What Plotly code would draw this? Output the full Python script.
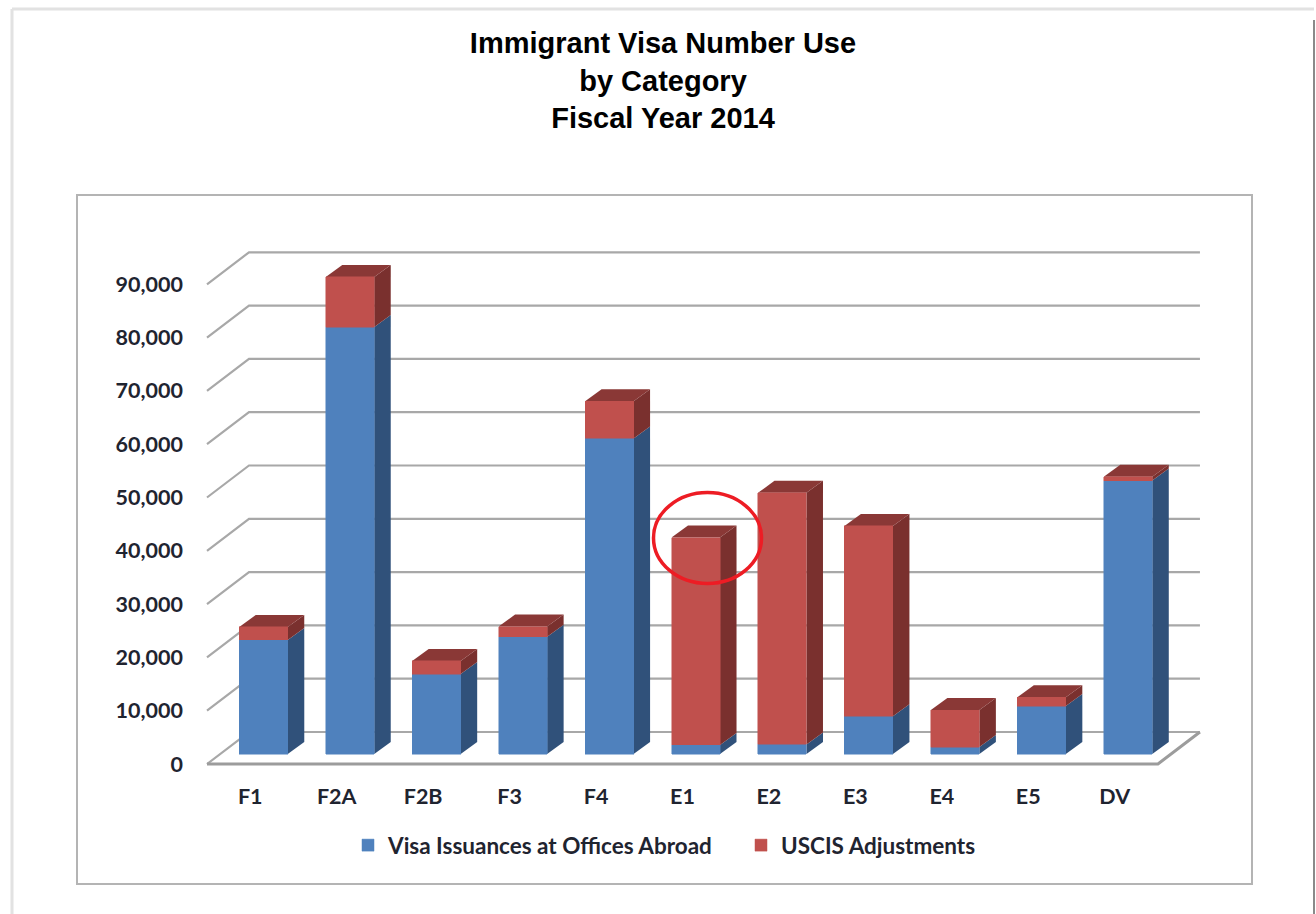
import plotly.graph_objects as go

categories = ["F1", "F2A", "F2B", "F3", "F4", "E1", "E2", "E3", "E4", "E5", "DV"]
visa_abroad = [21400, 80100, 15000, 22000, 59200, 1700, 1800, 7100, 1300, 9000, 51300]
uscis_adjust = [2450, 9400, 2450, 1900, 7000, 38900, 47200, 35700, 6950, 1650, 700]
axis_ticks = [0, 10000, 20000, 30000, 40000, 50000, 60000, 70000, 80000, 90000]

BLUE, BLUE_SIDE = "#4F81BD", "#30517A"
RED, RED_SIDE, RED_TOP = "#C0504D", "#7A302E", "#8A3836"
GRID = "#A8A8A8"
TEXT = "#1F2430"
FONT = "Lato"

W, H = 1316, 914
# plot-area frame (px)
L, R, T, B = 200, 1210, 240, 775
STEP = 86.45          # px per category
X0_PX = 207           # front-left corner of the floor
Y0_PX = 754           # bar base
PX_PER_VAL = 53.3 / 10000

def dx(px):
    return px / STEP
def dy(px):
    return px / PX_PER_VAL
def xd(px):
    return -0.5 + (px - X0_PX) / STEP
def yd(px):
    return (Y0_PX - px) / PX_PER_VAL
def px_x(px):
    return (px - L) / (R - L)
def px_y(py):
    return (B - py) / (B - T)

BAR_SHIFT = dx(13.3)
BAR_W = dx(48.5)
DEPTH_X, DEPTH_Y = dx(16.5), dy(12)
FRONT = dy(-10)       # front floor edge relative to bar base
BACK_DX, BACK_DY = dx(42), dy(32)
N = len(categories)

def poly(pts, fill, line=None, width=0, close=True):
    path = "M " + " L ".join(f"{x},{y}" for x, y in pts) + (" Z" if close else "")
    s = dict(type="path", xref="x", yref="y", path=path, layer="below",
             line=dict(color=line or "rgba(0,0,0,0)", width=width))
    if fill:
        s["fillcolor"] = fill
    return s

shapes = []
# outer page edges and inner chart frame
shapes += [
    dict(type="line", xref="paper", yref="paper", x0=px_x(12), x1=px_x(1314), y0=px_y(9), y1=px_y(9),
         line=dict(color="#E2E2E2", width=3), layer="below"),
    dict(type="line", xref="paper", yref="paper", x0=px_x(12), x1=px_x(12), y0=px_y(9), y1=px_y(914),
         line=dict(color="#E2E2E2", width=3), layer="below"),
    dict(type="line", xref="paper", yref="paper", x0=px_x(1314), x1=px_x(1314), y0=px_y(20), y1=px_y(914),
         line=dict(color="#8A8A8A", width=2), layer="below"),
    dict(type="rect", xref="paper", yref="paper", x0=px_x(77), x1=px_x(1252), y0=px_y(884), y1=px_y(195),
         line=dict(color="#B4B4B4", width=2), layer="below"),
]

# back-wall gridlines with the left-wall diagonals
x_left = -0.5
x_right = x_left + N
for v in axis_ticks:
    f = v + FRONT
    shapes.append(poly([(x_left, f), (x_left + BACK_DX, f + BACK_DY),
                        (x_right + BACK_DX, f + BACK_DY)], None, GRID, 2.2, close=False))
# floor
shapes.append(poly([(x_right + BACK_DX, FRONT + BACK_DY), (x_right, FRONT), (x_left, FRONT)],
                   None, "#9C9C9C", 3, close=False))

# depth faces of each stacked bar
for i in range(N):
    xr = i + BAR_SHIFT + BAR_W / 2
    xl = i + BAR_SHIFT - BAR_W / 2
    a = visa_abroad[i]
    t = a + uscis_adjust[i]
    shapes.append(poly([(xr, 0), (xr + DEPTH_X, DEPTH_Y), (xr + DEPTH_X, a + DEPTH_Y), (xr, a)], BLUE_SIDE))
    shapes.append(poly([(xr, a), (xr + DEPTH_X, a + DEPTH_Y), (xr + DEPTH_X, t + DEPTH_Y), (xr, t)], RED_SIDE))
    shapes.append(poly([(xl, t), (xr, t), (xr + DEPTH_X, t + DEPTH_Y), (xl + DEPTH_X, t + DEPTH_Y)], RED_TOP))

# hand-drawn circle around E1
shapes.append(dict(type="circle", xref="x", yref="y", layer="above",
                   x0=xd(653.5), x1=xd(761.5), y0=yd(583.5), y1=yd(492.5),
                   line=dict(color="#ED1C24", width=3.5)))

bar_x = [i + BAR_SHIFT for i in range(N)]
fig = go.Figure()
fig.add_trace(go.Bar(name="Visa Issuances at Offices Abroad", x=bar_x, y=visa_abroad, width=BAR_W,
                     marker=dict(color=BLUE, line=dict(color=BLUE, width=0.5))))
fig.add_trace(go.Bar(name="USCIS Adjustments", x=bar_x, y=uscis_adjust, width=BAR_W,
                     marker=dict(color=RED, line=dict(color=RED, width=0.5))))

fig.update_layout(
    width=W, height=H, autosize=False, barmode="stack",
    margin=dict(l=L, r=W - R, t=T, b=H - B, pad=0),
    paper_bgcolor="white", plot_bgcolor="rgba(0,0,0,0)",
    font=dict(family=FONT, color=TEXT, size=21.5, weight="bold"),
    title=dict(text="Immigrant Visa Number Use<br>by Category<br>Fiscal Year 2014",
               font=dict(family="Liberation Sans", size=29, color="black", weight="bold"),
               x=663 / W, xanchor="center", xref="container",
               y=1 - 53 / H, yanchor="top", yref="container"),
    shapes=shapes,
    showlegend=True,
    legend=dict(orientation="h", x=px_x(348), xanchor="left", y=px_y(824), yanchor="top",
                font=dict(family=FONT, size=22.5, color=TEXT, weight="bold"), bgcolor="rgba(0,0,0,0)",
                traceorder="normal", entrywidth=348, entrywidthmode="pixels", itemclick=False),
    xaxis=dict(range=[xd(L), xd(R)], tickmode="array", tickvals=list(range(N)), ticktext=categories,
               showgrid=False, zeroline=False, showline=False, ticks="", ticklabelstandoff=6),
    yaxis=dict(range=[yd(B), yd(T)], tickmode="array", tickvals=[v + FRONT for v in axis_ticks],
               ticktext=[f"{v:,}" for v in axis_ticks],
               showgrid=False, zeroline=False, showline=False, ticks="", ticklabelstandoff=16),
)

fig.write_html("out.html", config={"displayModeBar": False},
               post_script="document.body.style.margin='0';document.body.style.overflow='hidden';")
